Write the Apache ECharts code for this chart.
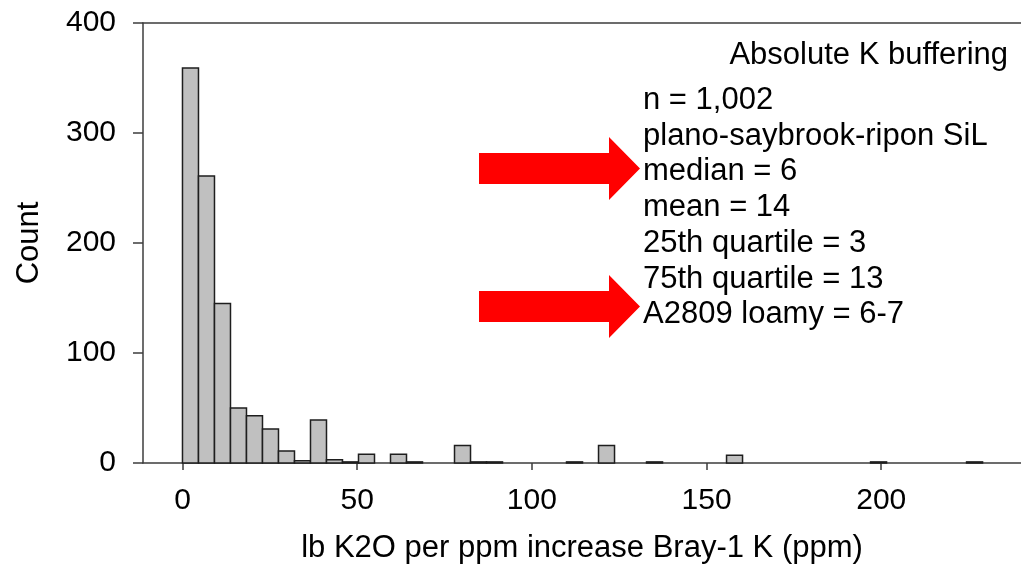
<!DOCTYPE html>
<html>
<head>
<meta charset="utf-8">
<script src="https://cdn.jsdelivr.net/npm/echarts@6/dist/echarts.min.js"></script>
<style>
  html, body { margin: 0; padding: 0; background: #fff; }
  #chart { width: 1021px; height: 565px; }
</style>
</head>
<body>
<div id="chart"></div>
<script>
// Histogram of absolute K buffering values (50 equal-width bins starting at 0)
const binStart = 0;
const binWidth = 4.58;
const binCounts = [
  359, 261, 145, 50, 43, 31, 11, 2, 39, 3,
  1, 8, 0, 8, 1, 0, 0, 16, 1, 1,
  0, 0, 0, 0, 1, 0, 16, 0, 0, 1,
  0, 0, 0, 0, 7, 0, 0, 0, 0, 0,
  0, 0, 0, 1, 0, 0, 0, 0, 0, 1
];
const xTicks = [0, 50, 100, 150, 200];
const yTicks = [0, 100, 200, 300, 400];

const titleLine = 'Absolute K buffering';
const noteLines = [
  'n = 1,002',
  'plano-saybrook-ripon SiL',
  'median = 6',
  'mean = 14',
  '25th quartile = 3',
  '75th quartile = 13',
  'A2809 loamy = 6-7'
];

const FONT = "'Liberation Sans', Arial, sans-serif";
const AXIS_COLOR = '#3c3c3c';

const histData = binCounts.map((c, i) => [binStart + i * binWidth, binStart + (i + 1) * binWidth, c]);

const chart = echarts.init(document.getElementById('chart'), null, { renderer: 'canvas' });

// red pointer arrows next to the median and A2809 lines
function arrow(yc) {
  const x0 = 479, xh = 609, xt = 640;
  const sh = 15.5, hh = 31.5;
  return {
    type: 'polygon',
    shape: { points: [
      [x0, yc - sh], [xh, yc - sh], [xh, yc - hh], [xt, yc],
      [xh, yc + hh], [xh, yc + sh], [x0, yc + sh]
    ] },
    style: { fill: '#ff0000' },
    z: 10
  };
}

const graphics = [
  {
    type: 'text', right: 13, top: 40,
    style: { text: titleLine, font: '31px ' + FONT, fill: '#000' }
  }
];
noteLines.forEach((t, i) => {
  graphics.push({
    type: 'text', left: 643, top: 85 + i * 35.7,
    style: { text: t, font: '31px ' + FONT, fill: '#000' }
  });
});
graphics.push(arrow(168.5));
graphics.push(arrow(306.5));

chart.setOption({
  animation: false,
  backgroundColor: '#fff',
  grid: { left: 143, right: 0, top: 23, bottom: 102, outerBoundsMode: 'none', containLabel: false },
  xAxis: [
    {
      type: 'value',
      min: -11.3,
      max: 240,
      splitLine: { show: false },
      axisLine: { show: true, onZero: false, lineStyle: { color: AXIS_COLOR, width: 1.5 } },
      axisTick: { show: true, length: 7, customValues: xTicks, lineStyle: { color: AXIS_COLOR, width: 1.5 } },
      axisLabel: { customValues: xTicks, fontSize: 30, fontFamily: FONT, color: '#000', margin: 23 },
      name: 'lb K2O per ppm increase Bray-1 K (ppm)',
      nameLocation: 'middle',
      nameGap: 70,
      nameTextStyle: { fontSize: 31, fontFamily: FONT, color: '#000' }
    },
    {
      type: 'value',
      position: 'top',
      min: -11.3,
      max: 240,
      splitLine: { show: false },
      axisLine: { show: true, onZero: false, lineStyle: { color: AXIS_COLOR, width: 1.5 } },
      axisTick: { show: false },
      axisLabel: { show: false }
    }
  ],
  yAxis: {
    type: 'value',
    min: 0,
    max: 400,
    interval: 100,
    splitLine: { show: false },
    axisLine: { show: true, onZero: false, lineStyle: { color: AXIS_COLOR, width: 1.5 } },
    axisTick: { show: true, length: 10, lineStyle: { color: AXIS_COLOR, width: 1.5 } },
    axisLabel: { fontSize: 30, fontFamily: FONT, color: '#000', margin: 27 },
    name: 'Count',
    nameLocation: 'middle',
    nameGap: 98,
    nameRotate: 90,
    nameTextStyle: { fontSize: 31, fontFamily: FONT, color: '#000' }
  },
  series: [{
    type: 'custom',
    xAxisIndex: 0,
    yAxisIndex: 0,
    data: histData,
    encode: { x: [0, 1], y: 2 },
    renderItem: function (params, api) {
      const count = api.value(2);
      if (!count) return null;
      const p0 = api.coord([api.value(0), count]);
      const p1 = api.coord([api.value(1), 0]);
      return {
        type: 'rect',
        shape: { x: p0[0], y: p0[1], width: p1[0] - p0[0], height: p1[1] - p0[1] },
        style: { fill: '#c0c0c0', stroke: '#1e1e1e', lineWidth: 1.5 }
      };
    }
  }],
  graphic: graphics
});
</script>
</body>
</html>
